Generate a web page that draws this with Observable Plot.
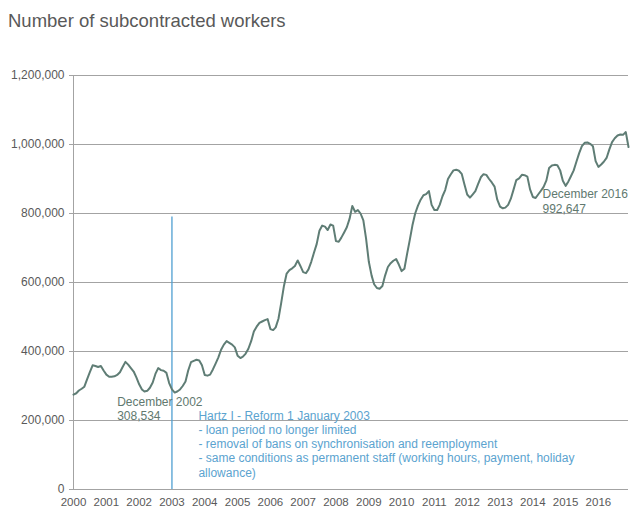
<!DOCTYPE html>
<html><head><meta charset="utf-8">
<script src="https://cdn.jsdelivr.net/npm/d3@7"></script>
<script src="https://cdn.jsdelivr.net/npm/@observablehq/plot@0.6"></script>
<style>
body{margin:0;background:#fff;font-family:"Liberation Sans",Arial,sans-serif;}
#title{height:40px;box-sizing:border-box;padding:10px 0 0 8px;font-size:18.5px;line-height:22px;color:#595959;white-space:nowrap;}
#chart svg{display:block;}
</style></head><body>
<div id="title">Number of subcontracted workers</div>
<div id="chart"></div>
<script>
// Monthly values, January 2000 – December 2016
const startYear = 2000;
const workers = [
  275000, 279000, 287000, 292000, 298000, 320000, 340000, 360000, 358000, 355000, 358000, 345000, // 2000
  333000, 327000, 327000, 328000, 332000, 340000, 355000, 370000, 362000, 352000, 342000, 325000, // 2001
  305000, 290000, 284000, 286000, 295000, 310000, 335000, 352000, 346000, 344000, 338000, 308534, // 2002
  290000, 281000, 284000, 290000, 300000, 313000, 345000, 369000, 373000, 376000, 374000, 360000, // 2003
  332000, 330000, 333000, 348000, 365000, 383000, 405000, 420000, 430000, 425000, 420000, 412000, // 2004
  388000, 381000, 385000, 394000, 408000, 430000, 458000, 472000, 483000, 487000, 491000, 494000, // 2005
  465000, 462000, 470000, 495000, 540000, 590000, 626000, 636000, 641000, 648000, 664000, 648000, // 2006
  630000, 627000, 638000, 660000, 686000, 712000, 750000, 765000, 762000, 752000, 768000, 765000, // 2007
  720000, 718000, 730000, 745000, 760000, 785000, 822000, 805000, 810000, 800000, 780000, 728000, // 2008
  660000, 620000, 595000, 584000, 582000, 590000, 620000, 645000, 656000, 663000, 668000, 652000, // 2009
  633000, 640000, 680000, 722000, 765000, 800000, 822000, 840000, 853000, 856000, 865000, 825000, // 2010
  810000, 810000, 825000, 850000, 868000, 900000, 913000, 925000, 927000, 924000, 915000, 885000, // 2011
  855000, 846000, 855000, 865000, 885000, 905000, 914000, 912000, 900000, 890000, 878000, 840000, // 2012
  820000, 815000, 817000, 825000, 843000, 870000, 897000, 902000, 912000, 911000, 907000, 870000, // 2013
  848000, 845000, 855000, 866000, 877000, 896000, 932000, 939000, 941000, 940000, 925000, 895000, // 2014
  880000, 893000, 908000, 925000, 950000, 975000, 995000, 1005000, 1006000, 1002000, 995000, 952000, // 2015
  935000, 942000, 950000, 961000, 985000, 1007000, 1018000, 1026000, 1029000, 1028000, 1036000, 992647 // 2016
];
const tickYears = [2000, 2001, 2002, 2003, 2004, 2005, 2006, 2007, 2008, 2009, 2010, 2011, 2012, 2013, 2014, 2015, 2016];
const yTicks = [0, 200000, 400000, 600000, 800000, 1000000, 1200000];
const reformYear = 2003;
const reformTop = 790000;
const reformLines = [
  "Hartz I - Reform 1 January 2003",
  "- loan period no longer limited",
  "- removal of bans on synchronisation and reemployment",
  "- same conditions as permanent staff (working hours, payment, holiday",
  "allowance)"
];
const calloutYears = [2002, 2016];
const calloutValues = [308534, 992647];
const calloutLabels = ["December 2002\n308,534", "December 2016\n992,647"];

const data = workers.map((v, i) => ({date: new Date(Date.UTC(startYear, i, 1)), value: v}));
const xStart = data[0].date, xEnd = data[data.length - 1].date;
const tickDates = tickYears.map(y => new Date(Date.UTC(y, 0, 1)));
const reform = [{date: new Date(Date.UTC(reformYear, 0, 1)), top: reformTop, text: reformLines.join("\n")}];
const callouts = calloutYears.map((y, i) => ({date: new Date(Date.UTC(y, 11, 1)), value: calloutValues[i], label: calloutLabels[i]}));

const lineColor = "#5f7d75";
const blue = "#4f9fd1";
const grid = "#a3a3a3";

const chart = Plot.plot({
  width: 632, height: 470,
  marginTop: 35, marginBottom: 21, marginLeft: 73, marginRight: 4,
  style: {fontFamily: "Liberation Sans, Arial, sans-serif", fontSize: "12px", color: "#595959", background: "#fff"},
  x: {type: "utc", domain: [xStart, xEnd]},
  y: {domain: [0, 1200000]},
  marks: [
    Plot.gridY(yTicks, {stroke: grid, strokeOpacity: 1}),
    Plot.ruleX([xStart], {stroke: grid}),
    Plot.axisY(yTicks, {tickFormat: d3.format(","), tickSize: 4, tickPadding: 5, stroke: grid, fill: "#595959"}),
    Plot.axisX(tickDates, {tickFormat: "%Y", tickSize: 0, tickPadding: 8, fill: "#595959", fontSize: 11.5}),
    Plot.ruleX(reform, {x: "date", y1: 0, y2: "top", stroke: blue, strokeWidth: 1.3}),
    Plot.line(data, {x: "date", y: "value", stroke: lineColor, strokeWidth: 2}),
    Plot.text(callouts.slice(0, 1), {x: "date", y: "value", text: "label", textAnchor: "start", lineAnchor: "top", dx: -52, dy: 13, lineHeight: 1.15, fill: "#61796f", fontSize: 12}),
    Plot.text(callouts.slice(1), {x: "date", y: "value", text: "label", textAnchor: "start", lineAnchor: "top", dx: -86, dy: 41, lineHeight: 1.22, fill: "#61796f", fontSize: 12}),
    Plot.text(reform, {x: "date", y: 0, text: "text", textAnchor: "start", lineAnchor: "top", dx: 26.5, dy: -80, lineHeight: 1.19, fill: "#5ba3cf", fontSize: 12})
  ]
});
document.getElementById("chart").appendChild(chart);
</script>
</body></html>
